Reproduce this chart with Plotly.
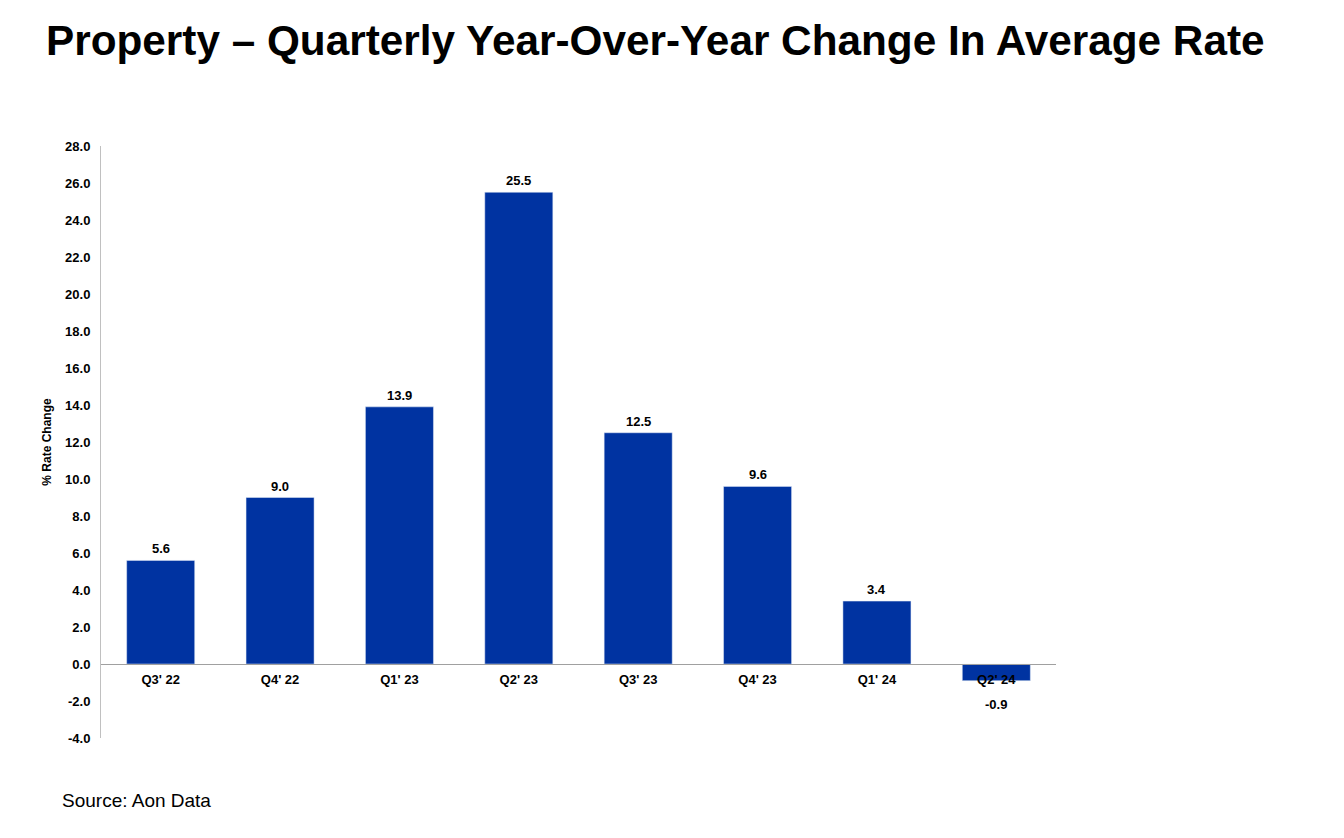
import plotly.graph_objects as go

# quarterly YoY change in average property rate (%)
quarters = ["Q3' 22", "Q4' 22", "Q1' 23", "Q2' 23", "Q3' 23", "Q4' 23", "Q1' 24", "Q2' 24"]
rate_change = [5.6, 9.0, 13.9, 25.5, 12.5, 9.6, 3.4, -0.9]

# y ticks (the source uses a plain hyphen for negatives)
y_ticks = [-4, -2, 0, 2, 4, 6, 8, 10, 12, 14, 16, 18, 20, 22, 24, 26, 28]
y_tick_labels = [f"{v:.1f}" for v in y_ticks]

bar_color = "#0033A1"
font = "Liberation Sans, Arial, sans-serif"

# page body has an 8px margin, so figure coords = screen coords - 8
W, H = 1344, 838
L, T, R, B = 93, 138, 296, 108
plot_w = W - L - R
plot_h = H - T - B

fig = go.Figure()
fig.add_trace(go.Bar(
    x=quarters,
    y=rate_change,
    marker_color=bar_color,
    width=0.57,
    hoverinfo="x+y",
))

# value labels: above positive bars, well below the negative one
for q, v in zip(quarters, rate_change):
    fig.add_annotation(
        x=q, y=v,
        text=f"<b>{v:.1f}</b>",
        showarrow=False,
        yanchor="bottom" if v >= 0 else "top",
        yshift=2 if v >= 0 else -14,
        font=dict(family=font, size=13, color="black"),
    )

fig.update_layout(
    width=W,
    height=H,
    paper_bgcolor="white",
    plot_bgcolor="white",
    margin=dict(l=L, r=R, t=T, b=B),
    showlegend=False,
    title=dict(
        text="<b>Property – Quarterly Year-Over-Year Change In Average Rate</b>",
        font=dict(family=font, size=42.3, color="black"),
        x=38 / W, xanchor="left",
        y=1 - 32 / H, yanchor="middle",
    ),
)

# x axis sits on the zero line: (0 - (-4)) / 32 of the plot height
fig.update_xaxes(
    anchor="free",
    position=4 / 32,
    showline=True,
    linecolor="#a0a0a0",
    linewidth=1,
    ticks="",
    ticklabelstandoff=3,
    showgrid=False,
    tickfont=dict(family=font, size=13, color="black", weight="bold"),
)

fig.update_yaxes(
    range=[-4, 28],
    tickvals=y_ticks,
    ticktext=y_tick_labels,
    showgrid=False,
    zeroline=False,
    showline=True,
    linecolor="#c0c0c0",
    linewidth=1,
    ticks="",
    ticklabelstandoff=7,
    tickfont=dict(family=font, size=13, color="black", weight="bold"),
    title=dict(
        text="% Rate Change",
        font=dict(family=font, size=12, color="black", weight="bold"),
        standoff=10,
    ),
)

fig.add_annotation(
    text="Source: Aon Data",
    xref="paper", yref="paper",
    x=(52 - L) / plot_w, xanchor="left",
    y=-(792 - (H - B)) / plot_h, yanchor="middle",
    showarrow=False,
    font=dict(family=font, size=19, color="black"),
)

fig.write_html("out.html")
